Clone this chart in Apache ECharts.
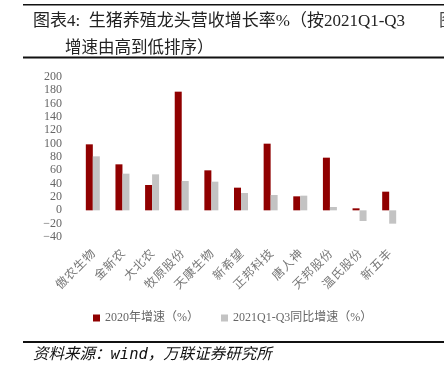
<!DOCTYPE html>
<html><head><meta charset="utf-8">
<script src="https://cdn.jsdelivr.net/npm/echarts@6/dist/echarts.min.js"></script>
<style>html,body{margin:0;padding:0;background:#fff;}#c{width:444px;height:376px;}</style>
</head><body><div id="c"></div>
<script>
var categories = ['傲农生物','金新农','大北农','牧原股份','天康生物','新希望','正邦科技','唐人神','天邦股份','温氏股份','新五丰'];
var growth2020 = [99, 69, 38, 178, 60, 34, 100, 21, 79, 3, 28];
var growth2021Q1Q3 = [81, 55, 54, 44, 43, 26, 23, 22, 5, -16, -20];
var seriesNames = ['2020年增速（%）', '2021Q1-Q3同比增速（%）'];
var yTicks = {min: -40, max: 200, interval: 20};

var FONT = '"Liberation Serif","Noto Sans CJK SC",serif';
var HS = '\u200A';
function spaced(s){ return s.split('').join(HS); }
var chart = echarts.init(document.getElementById('c'));
chart.setOption({
  animation: false,
  backgroundColor: '#fff',
  grid: {left: 78, right: 40, top: 77, bottom: 139},
  legend: {
    left: 88, top: 307, itemWidth: 7, itemHeight: 7, itemGap: 22,
    icon: 'rect',
    textStyle: {fontFamily: FONT, fontSize: 12, color: '#666'},
    data: seriesNames
  },
  xAxis: {
    type: 'category', data: categories,
    axisLine: {show: false}, axisTick: {show: false},
    axisLabel: {rotate: 45, interval: 0, margin: 14, fontSize: 12, color: '#777', fontFamily: '"Noto Sans CJK SC"',
      formatter: function(v){ return spaced(v); }}
  },
  yAxis: {
    type: 'value', min: yTicks.min, max: yTicks.max, interval: yTicks.interval,
    splitLine: {show: false}, axisLine: {show: false}, axisTick: {show: false},
    axisLabel: {margin: 16, fontSize: 12, color: '#666', fontFamily: '"Liberation Serif",serif',
      formatter: function(v){ return String(v).replace('-', '−'); }}
  },
  series: [
    {name: seriesNames[0], type: 'bar', data: growth2020, barWidth: 7, barGap: '0%', itemStyle: {color: '#900000'}},
    {name: seriesNames[1], type: 'bar', data: growth2021Q1Q3, barWidth: 7, barGap: '0%', itemStyle: {color: '#c3c3c3'}}
  ],
  graphic: [
    {type: 'rect', shape: {x: 23, y: 4, width: 421, height: 1.5}, style: {fill: '#111'}},
    {type: 'rect', shape: {x: 23, y: 56.5, width: 421, height: 2}, style: {fill: '#111'}},
    {type: 'text', left: 33, top: 13, style: {text: '图表4:  生猪养殖龙头营收增长率%（按2021Q1-Q3', font: '17px ' + FONT, fill: '#222'}},
    {type: 'text', left: 65, top: 40, style: {text: '增速由高到低排序）', font: '16.5px ' + FONT, fill: '#222'}},
    {type: 'text', left: 439, top: 13, style: {text: '图', font: '17px ' + FONT, fill: '#444'}},
    {type: 'rect', shape: {x: 23, y: 341, width: 421, height: 2}, style: {fill: '#111'}},
    {type: 'text', left: 33, top: 347, style: {text: '资料来源：wind，万联证券研究所', font: 'italic 15.5px "DejaVu Sans Mono","Noto Sans CJK SC",sans-serif', fill: '#111'}}
  ]
});
</script></body></html>
